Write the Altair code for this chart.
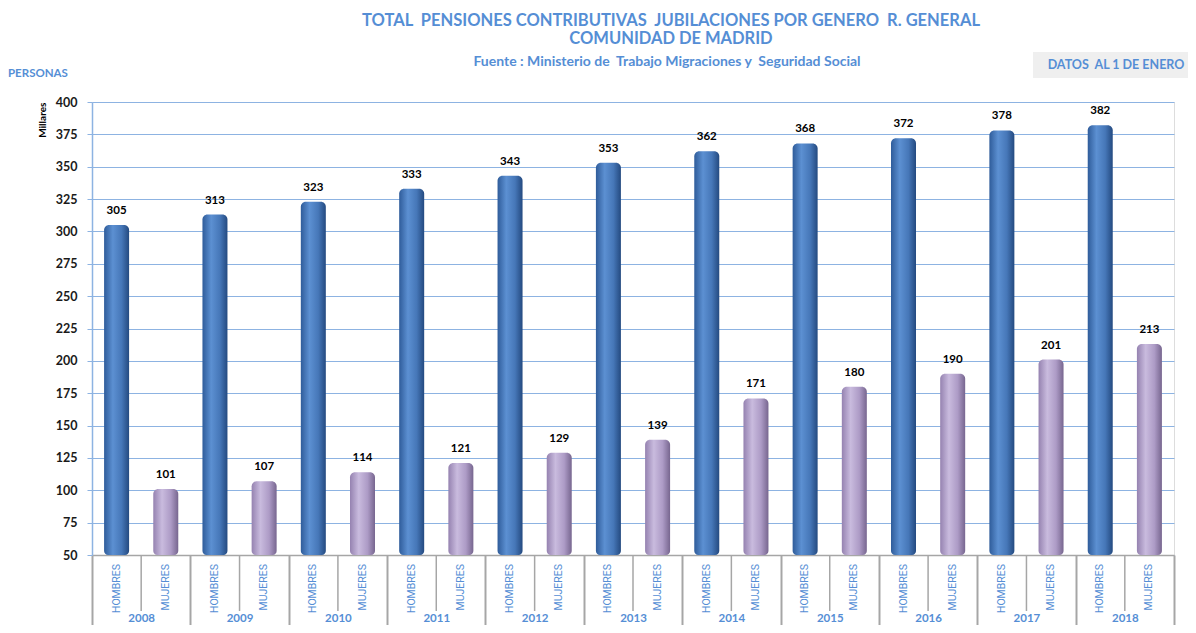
import altair as alt
import pandas as pd

years = ["2008", "2009", "2010", "2011", "2012", "2013", "2014", "2015", "2016", "2017", "2018"]
hombres = [305, 313, 323, 333, 343, 353, 362, 368, 372, 378, 382]
mujeres = [101, 107, 114, 121, 129, 139, 171, 180, 190, 201, 213]
genders = ["HOMBRES", "MUJERES"]
y_ticks = [50, 75, 100, 125, 150, 175, 200, 225, 250, 275, 300, 325, 350, 375, 400]
NB = "\u00a0"
title_lines = [f"TOTAL {NB}PENSIONES CONTRIBUTIVAS {NB}JUBILACIONES POR GENERO {NB}R. GENERAL",
               "COMUNIDAD DE MADRID"]
subtitle = f"Fuente : Ministerio de {NB}Trabajo Migraciones y {NB}Seguridad Social"
box_label = f"DATOS {NB}AL 1 DE ENERO"

rows = []
for i, y in enumerate(years):
    rows.append({"year": y, "gender": "HOMBRES", "value": hombres[i]})
    rows.append({"year": y, "gender": "MUJERES", "value": mujeres[i]})
df = pd.DataFrame(rows)

W, H = 1082, 453
TOP = 94
BLUE_TXT = "#558ED5"
GRID = "#8DB3E2"
FONT = "Lato"
Y0 = -(TOP + 8)  # page y = 0 in plot coordinates

x_enc = alt.X("year:N", sort=years,
              scale=alt.Scale(paddingInner=0, paddingOuter=0),
              axis=alt.Axis(title=None, labelAngle=0, labelColor=BLUE_TXT, labelFont=FONT,
                            labelFontWeight="bold", labelFontSize=11.5, labelPadding=-19,
                            labelBaseline="top",
                            tickBand="extent", ticks=True, tickSize=76, tickColor="#A6A6A6",
                            tickWidth=2, domainColor="#A6A6A6", domainWidth=1.5, grid=False))
xo_enc = alt.XOffset("gender:N", sort=genders, scale=alt.Scale(paddingInner=0, paddingOuter=0))
y_scale = alt.Scale(domain=[50, 400], zero=False, nice=False)
y_enc = alt.Y("value:Q", scale=y_scale,
              axis=alt.Axis(values=y_ticks, labelOverlap=False, title="Millares", titleFont=FONT,
                            titleFontSize=10, titleFontWeight="bold", titleColor="black",
                            titleAnchor="end", titlePadding=8, labelFont=FONT,
                            labelFontWeight="bold", labelFontSize=12.5, labelColor="#1a1a1a",
                            labelPadding=10, tickColor=GRID, tickSize=5, domainColor=GRID,
                            domainWidth=1.5, gridColor=GRID, gridWidth=1.2, grid=True))

base = alt.Chart(df)

grad_h = alt.Gradient(gradient="linear", x1=0, x2=1, y1=0, y2=0,
                      stops=[alt.GradientStop(color="#2F5C9A", offset=0),
                             alt.GradientStop(color="#5C90D2", offset=0.35),
                             alt.GradientStop(color="#4677B8", offset=0.7),
                             alt.GradientStop(color="#244A80", offset=1)])
grad_m = alt.Gradient(gradient="linear", x1=0, x2=1, y1=0, y2=0,
                      stops=[alt.GradientStop(color="#9582B0", offset=0),
                             alt.GradientStop(color="#C9BBDE", offset=0.35),
                             alt.GradientStop(color="#AD9BC6", offset=0.7),
                             alt.GradientStop(color="#77668F", offset=1)])

bars_h = base.transform_filter(alt.datum.gender == "HOMBRES").mark_bar(
    color=grad_h, width=25, xOffset=14, cornerRadiusTopLeft=5, cornerRadiusTopRight=5,
    cornerRadiusBottomLeft=4, cornerRadiusBottomRight=4
).encode(x=x_enc, xOffset=xo_enc, y=y_enc, y2=alt.datum(50))

bars_m = base.transform_filter(alt.datum.gender == "MUJERES").mark_bar(
    color=grad_m, width=25, xOffset=14, cornerRadiusTopLeft=5, cornerRadiusTopRight=5,
    cornerRadiusBottomLeft=4, cornerRadiusBottomRight=4
).encode(x=x_enc, xOffset=xo_enc, y=y_enc, y2=alt.datum(50))

labels = base.mark_text(font=FONT, fontSize=11.5, fontWeight="bold", color="black",
                        dy=-14, xOffset=14).encode(
    x=x_enc, xOffset=xo_enc, y=y_enc, text="value:Q")

gender_lbl = base.mark_text(font="Roboto", fontSize=10.5, color=BLUE_TXT,
                            angle=270, align="right", baseline="middle", dx=-1).encode(
    x=x_enc, xOffset=xo_enc, y=alt.value(H + 8), text="gender:N")

gender_sep = base.transform_filter(alt.datum.gender == "HOMBRES").mark_rule(
    color="#A6A6A6", strokeWidth=1.5).encode(
    x=x_enc, y=alt.value(H), y2=alt.value(H + 56))

# header texts
t_df = pd.DataFrame({"t": ["\n".join(title_lines)]})
title_txt = alt.Chart(t_df).mark_text(font=FONT, fontSize=16.5, fontWeight="bold",
                                      color=BLUE_TXT, align="center", baseline="middle",
                                      lineBreak="\n", lineHeight=18).encode(
    x=alt.value(579), y=alt.value(Y0 + 21), text="t:N")
s_df = pd.DataFrame({"t": [subtitle]})
sub_txt = alt.Chart(s_df).mark_text(font=FONT, fontSize=14, fontWeight="bold",
                                    color=BLUE_TXT, align="center", baseline="middle").encode(
    x=alt.value(575), y=alt.value(Y0 + 62), text="t:N")

annot = pd.DataFrame({"t": ["PERSONAS"]})
personas = alt.Chart(annot).mark_text(font=FONT, fontSize=11.5, fontWeight="bold",
                                      color=BLUE_TXT, align="left", baseline="middle").encode(
    x=alt.value(-84), y=alt.value(Y0 + 74), text="t:N")

box_df = pd.DataFrame({"t": [box_label]})
box = alt.Chart(box_df).mark_rect(color="#EFEFEF").encode(
    x=alt.value(941), x2=alt.value(1100),
    y=alt.value(Y0 + 52), y2=alt.value(Y0 + 78))
box_txt = alt.Chart(box_df).mark_text(font=FONT, fontSize=12.5, fontWeight="bold",
                                      color=BLUE_TXT, baseline="middle").encode(
    x=alt.value(1024), y=alt.value(Y0 + 65), text="t:N")

chart = alt.layer(gender_sep, bars_h, bars_m, labels, gender_lbl,
                  title_txt, sub_txt, personas, box, box_txt).properties(
    width=W, height=H,
    padding={"left": 84, "top": TOP, "right": 14, "bottom": 633 - 16 - TOP - H},
    autosize=alt.AutoSizeParams(type="none"),
).configure_view(stroke=None).configure(background="white")

chart.save("out.html", embed_options={"renderer": "svg", "actions": False})
